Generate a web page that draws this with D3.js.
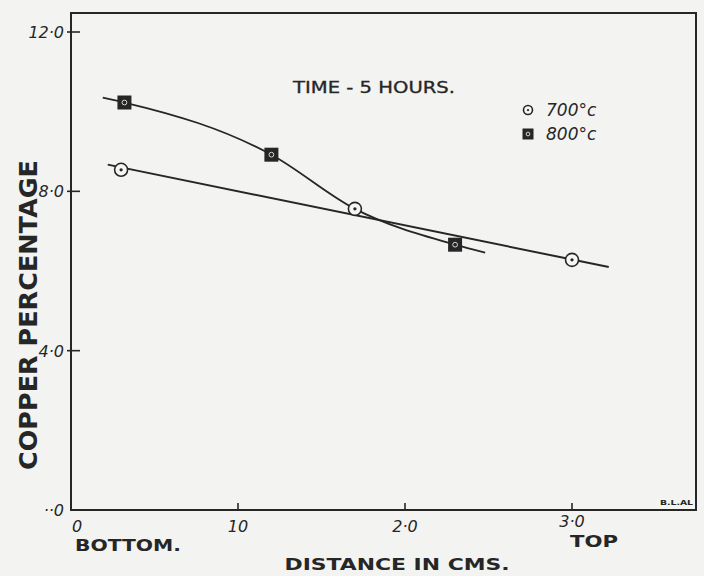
<!DOCTYPE html>
<html>
<head>
<meta charset="utf-8">
<script src="https://cdn.jsdelivr.net/npm/d3@7"></script>
<style>
  html, body { margin: 0; padding: 0; background: #f3f3f1; }
  svg { display: block; }
</style>
</head>
<body>
<svg id="chart" width="704" height="576"></svg>
<script>
// Copper percentage along the specimen, time 5 hours
const pts700 = [[0.3, 85.4], [1.7, 75.6], [3.0, 62.8]];
const pts800 = [[0.32, 102.3], [1.2, 89.2], [2.3, 66.6]];
// drawn curves (700 °C straight fit, 800 °C smooth curve through its points)
const line700 = [[0.22, 86.7], [3.22, 61.0]];
const curve800 = [[0.19, 103.5], [0.32, 102.3], [1.2, 89.2], [1.7, 75.6], [2.3, 66.6], [2.48, 64.6]];

const xTicks = [0, 1.0, 2.0, 3.0];
const xTickLabels = ["0", "10", "2·0", "3·0"];
const yTicks = [0, 40, 80, 120];
const yTickLabels = ["··0", "4·0", "8·0", "12·0"];

const ink = "#262626";
const svg = d3.select("#chart");

const x = d3.scaleLinear().domain([0, 3.0]).range([71, 572]);
const y = d3.scaleLinear().domain([0, 120]).range([510, 32]);

// frame
svg.append("rect")
  .attr("x", 71).attr("y", 13)
  .attr("width", 696 - 71).attr("height", 510 - 13)
  .attr("fill", "none").attr("stroke", ink).attr("stroke-width", 2);

// y ticks and labels
const yAxis = svg.append("g");
yAxis.selectAll("line").data(yTicks.filter(d => d > 0)).join("line")
  .attr("x1", 67).attr("x2", 80)
  .attr("y1", d => y(d)).attr("y2", d => y(d))
  .attr("stroke", ink).attr("stroke-width", 1.6);
yAxis.selectAll("text").data(yTicks).join("text")
  .attr("x", 64).attr("y", d => y(d) + 6)
  .attr("text-anchor", "end")
  .attr("font-family", "DejaVu Sans, sans-serif")
  .attr("font-style", "italic")
  .attr("font-size", 16)
  .attr("fill", ink)
  .text((d, i) => yTickLabels[i]);

// x ticks and labels
const xAxis = svg.append("g");
xAxis.selectAll("line").data(xTicks.filter(d => d > 0)).join("line")
  .attr("x1", d => x(d)).attr("x2", d => x(d))
  .attr("y1", 503).attr("y2", 510)
  .attr("stroke", ink).attr("stroke-width", 1.6);
xAxis.selectAll("text").data(xTicks).join("text")
  .attr("x", (d, i) => x(d) + (i === 0 ? 6 : 0))
  .attr("y", (d, i) => i === 3 ? 527 : 532)
  .attr("text-anchor", "middle")
  .attr("font-family", "DejaVu Sans, sans-serif")
  .attr("font-style", "italic")
  .attr("font-size", 16)
  .attr("fill", ink)
  .text((d, i) => xTickLabels[i]);

// axis titles
const titleFont = "DejaVu Sans, sans-serif";
svg.append("text")
  .attr("transform", "translate(37,315) rotate(-90)")
  .attr("text-anchor", "middle")
  .attr("font-family", titleFont).attr("font-weight", "bold")
  .attr("font-size", 24).attr("fill", ink)
  .attr("textLength", 310).attr("lengthAdjust", "spacingAndGlyphs")
  .text("COPPER PERCENTAGE");

svg.append("text")
  .attr("x", 397).attr("y", 570)
  .attr("text-anchor", "middle")
  .attr("font-family", titleFont).attr("font-weight", "bold")
  .attr("font-size", 16).attr("fill", ink)
  .attr("textLength", 225).attr("lengthAdjust", "spacingAndGlyphs")
  .text("DISTANCE IN CMS.");

svg.append("text")
  .attr("x", 75).attr("y", 551)
  .attr("font-family", titleFont).attr("font-weight", "bold")
  .attr("font-size", 15).attr("fill", ink)
  .attr("textLength", 106).attr("lengthAdjust", "spacingAndGlyphs")
  .text("BOTTOM.");

svg.append("text")
  .attr("x", 570).attr("y", 547)
  .attr("font-family", titleFont).attr("font-weight", "bold")
  .attr("font-size", 15).attr("fill", ink)
  .attr("textLength", 48).attr("lengthAdjust", "spacingAndGlyphs")
  .text("TOP");

svg.append("text")
  .attr("x", 660).attr("y", 505)
  .attr("font-family", titleFont).attr("font-weight", "bold")
  .attr("font-size", 7).attr("fill", ink)
  .attr("textLength", 33).attr("lengthAdjust", "spacingAndGlyphs")
  .text("B.L.AL");

// legend title
svg.append("text")
  .attr("x", 293).attr("y", 93)
  .attr("font-family", titleFont)
  .attr("font-size", 15).attr("fill", ink)
  .attr("stroke", ink).attr("stroke-width", 0.3)
  .attr("textLength", 162).attr("lengthAdjust", "spacingAndGlyphs")
  .text("TIME - 5 HOURS.");

// curves
const straight = d3.line().x(d => x(d[0])).y(d => y(d[1]));
const smooth = d3.line().x(d => x(d[0])).y(d => y(d[1])).curve(d3.curveMonotoneX);
svg.append("path")
  .attr("d", straight(line700))
  .attr("fill", "none").attr("stroke", ink).attr("stroke-width", 2);
svg.append("path")
  .attr("d", smooth(curve800))
  .attr("fill", "none").attr("stroke", ink).attr("stroke-width", 1.8);

// markers
function circleMark(g, cx, cy, r) {
  g.append("circle").attr("cx", cx).attr("cy", cy).attr("r", r)
    .attr("fill", "#f6f6f4").attr("stroke", ink).attr("stroke-width", 1.6);
  g.append("circle").attr("cx", cx).attr("cy", cy).attr("r", r * 0.25)
    .attr("fill", ink);
}
function squareMark(g, cx, cy, s) {
  g.append("rect").attr("x", cx - s / 2).attr("y", cy - s / 2)
    .attr("width", s).attr("height", s).attr("fill", ink);
  g.append("circle").attr("cx", cx).attr("cy", cy).attr("r", s * 0.17)
    .attr("fill", "none").attr("stroke", "#d8d8d6").attr("stroke-width", 1);
}

const marks = svg.append("g");
pts700.forEach(d => circleMark(marks, x(d[0]), y(d[1]), 6.5));
pts800.forEach(d => squareMark(marks, x(d[0]), y(d[1]), 14));

// legend entries
circleMark(svg, 528, 110, 4.5);
squareMark(svg, 528, 134, 11);
svg.append("text")
  .attr("x", 546).attr("y", 116)
  .attr("font-family", titleFont).attr("font-style", "italic")
  .attr("font-size", 17).attr("fill", ink)
  .text("700°c");
svg.append("text")
  .attr("x", 546).attr("y", 140)
  .attr("font-family", titleFont).attr("font-style", "italic")
  .attr("font-size", 17).attr("fill", ink)
  .text("800°c");
</script>
</body>
</html>
